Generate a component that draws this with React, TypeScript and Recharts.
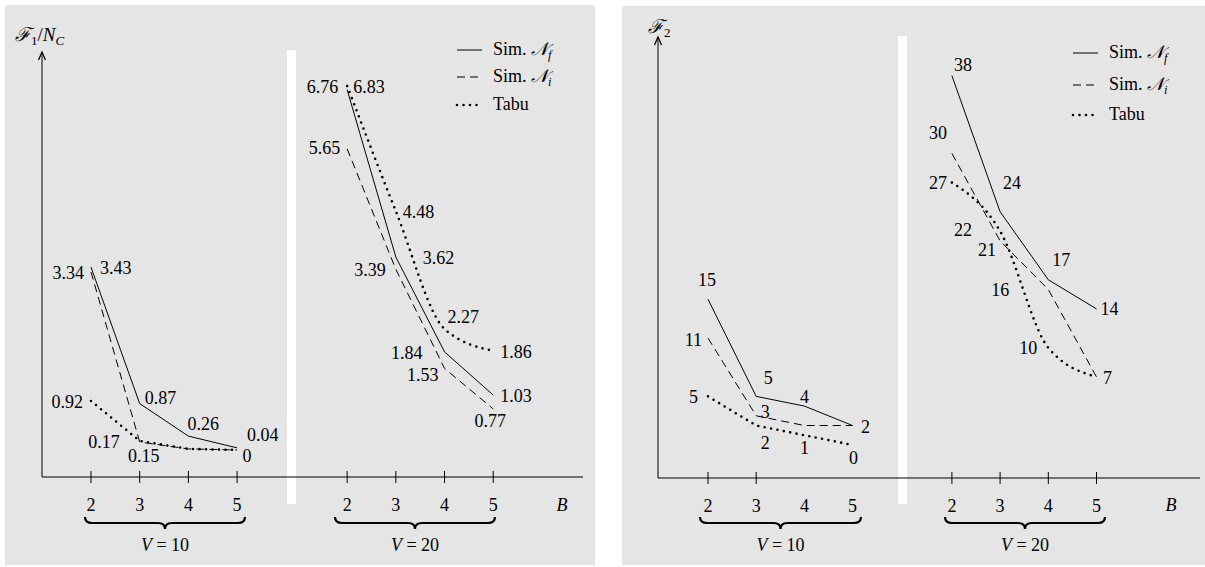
import { LineChart, Line, XAxis, YAxis, LabelList } from "recharts";

const B_VALUES = [2, 3, 4, 5];
const TICK_LABELS = ["2", "3", "4", "5", "2", "3", "4", "5"];

// F1 / Nc panel
const f1SimNf10 = [3.43, 0.87, 0.26, 0.04];
const f1SimNi10 = [3.34, 0.15, 0.02, 0];
const f1Tabu10 = [0.92, 0.17, 0.02, 0];
const f1SimNf20 = [6.76, 3.62, 1.84, 1.03];
const f1SimNi20 = [5.65, 3.39, 1.53, 0.77];
const f1Tabu20 = [6.83, 4.48, 2.27, 1.86];

// F2 panel
const f2SimNf10 = [15, 5, 4, 2];
const f2SimNi10 = [11, 3, 2, 2];
const f2Tabu10 = [5, 2, 1, 0];
const f2SimNf20 = [38, 24, 17, 14];
const f2SimNi20 = [30, 21, 16, 7];
const f2Tabu20 = [27, 22, 10, 7];

// label placement: [dx, dy, anchor] or null (no label)
type Off = [number, number, string] | null;
const offF1Nf10: Off[] = [[9, 1, "start"], [5, -6, "start"], [-1, -12, "start"], [10, -13, "start"]];
const offF1Ni10: Off[] = [[-7, 1, "end"], [4, 14, "middle"], null, [10, 6, "middle"]];
const offF1Tb10: Off[] = [[-8, 1, "end"], [-20, 1, "end"], null, null];
const offF1Nf20: Off[] = [[-9, -3, "end"], [27, 1, "start"], [-22, 1, "end"], [7, 1, "start"]];
const offF1Ni20: Off[] = [[-7, -1, "end"], [-10, 1, "end"], [-6, 7, "end"], [-3, 12, "middle"]];
const offF1Tb20: Off[] = [[6, 1, "start"], [7, 1, "start"], [3, -12, "start"], [7, 1, "start"]];

const offF2Nf10: Off[] = [[-1, -19, "middle"], [12, -18, "middle"], [0, -9, "middle"], [13, 1, "middle"]];
const offF2Ni10: Off[] = [[-6, 2, "end"], [9, -4, "middle"], null, null];
const offF2Tb10: Off[] = [[-10, 1, "end"], [9, 17, "middle"], [0, 13, "middle"], [1, 13, "middle"]];
const offF2Nf20: Off[] = [[11, -11, "middle"], [12, -29, "middle"], [13, -20, "middle"], [13, 0, "middle"]];
const offF2Ni20: Off[] = [[-14, -20, "middle"], [-13, 9, "middle"], [-48, 1, "middle"], [11, 1, "middle"]];
const offF2Tb20: Off[] = [[-14, 0, "middle"], [-37, -1, "middle"], [-20, 0, "middle"], null];

const FONT = "'Liberation Serif'";

const rows = (vals: number[], shift: number) =>
  vals.map((v, i) => ({ x: shift + B_VALUES[i] - 2, v }));

const makeLabel = (offs: Off[], fmt: (v: number) => string, size: number) => (p: any) => {
  const o = offs[p.index];
  if (!o) return null;
  const x = p.x ?? p.viewBox?.x;
  const y = p.y ?? p.viewBox?.y;
  return (
    <text
      x={x + o[0]}
      y={y + o[1]}
      textAnchor={o[2] as any}
      dominantBaseline="central"
      fontFamily={FONT}
      fontSize={size}
      fill="#000"
    >
      {fmt(p.value)}
    </text>
  );
};

const AxisTick = (props: any) => {
  const { x, y, index, marks, size } = props;
  return (
    <g>
      {marks[index] && <line x1={x} x2={x} y1={y - 6} y2={y + 6} stroke="#000" strokeWidth={1} />}
      <text x={x} y={y + 28} textAnchor="middle" dominantBaseline="central" fontFamily={FONT} fontSize={size} fill="#000">
        {TICK_LABELS[index]}
      </text>
    </g>
  );
};

const braceD = (x1: number, x2: number, y: number) => {
  const m = (x1 + x2) / 2;
  return `M ${x1} ${y - 6} Q ${x1} ${y} ${x1 + 7} ${y} L ${m - 7} ${y} Q ${m} ${y} ${m} ${y + 6} Q ${m} ${y} ${m + 7} ${y} L ${x2 - 7} ${y} Q ${x2} ${y} ${x2} ${y - 6}`;
};

const SOLID = {};
const DASHED = { strokeDasharray: "8 5" };
const DOTTED = { strokeDasharray: "0 6.5", strokeLinecap: "round" as const, strokeWidth: 2.6 };

function LegendBox({ x, ys, size }: { x: number; ys: number[]; size: number }) {
  const items = [
    { name: "Sim. ", sub: "f", style: SOLID, cal: true },
    { name: "Sim. ", sub: "i", style: DASHED, cal: true },
    { name: "Tabu", sub: "", style: DOTTED, cal: false },
  ];
  return (
    <g>
      {items.map((it, i) => (
        <g key={i}>
          <line x1={x} x2={x + 25} y1={ys[i]} y2={ys[i]} stroke="#000" strokeWidth={1} {...(it.style as any)} />
          <text x={x + 36} y={ys[i] + 5} fontFamily={FONT} fontSize={size}>
            {it.name}
            {it.cal && <tspan fontStyle="italic">𝒩</tspan>}
            {it.sub && (
              <tspan fontStyle="italic" fontSize={size * 0.7} dy={4}>
                {it.sub}
              </tspan>
            )}
          </text>
        </g>
      ))}
    </g>
  );
}

type PanelProps = {
  left: number;
  top: number;
  width: number;
  height: number;
  margin: { top: number; right: number; bottom: number; left: number };
  xDomain: [number, number];
  yDomain: [number, number];
  shift: number;
  series: { vals: number[]; offs: Off[]; style: any; group: number }[];
  fmt: (v: number) => string;
  marks: boolean[];
  fontSize: number;
  bar: [number, number, number, number];
  braces: [number, number, number][];
  bLabel: [number, number];
  legendX: number;
  legendYs: number[];
  yLabel: React.ReactNode;
};

function Panel(p: PanelProps) {
  const ticks = [...B_VALUES.map((b) => b - 2), ...B_VALUES.map((b) => p.shift + b - 2)];
  const ax = p.margin.left + 1;
  const ay = p.margin.top;
  return (
    <div style={{ position: "absolute", left: p.left, top: p.top, width: p.width, height: p.height, background: "#e5e5e5" }}>
      <div style={{ position: "absolute", left: p.bar[0], top: p.bar[1], width: p.bar[2], height: p.bar[3], background: "#fff" }} />
      <LineChart width={p.width} height={p.height} margin={p.margin}>
        <XAxis
          xAxisId={0}
          type="number"
          dataKey="x"
          domain={p.xDomain}
          allowDataOverflow
          ticks={ticks}
          interval={0}
          height={1}
          tickSize={0}
          tickMargin={0}
          tickLine={false}
          axisLine={{ stroke: "#000", strokeWidth: 1 }}
          tick={<AxisTick marks={p.marks} size={p.fontSize} />}
        />
        <YAxis
          yAxisId={0}
          type="number"
          domain={p.yDomain}
          allowDataOverflow
          width={1}
          tick={false}
          tickLine={false}
          axisLine={{ stroke: "#000", strokeWidth: 1 }}
        />
        {p.series.map((s, i) => (
          <Line
            key={i}
            xAxisId={0}
            yAxisId={0}
            data={rows(s.vals, s.group * p.shift)}
            dataKey="v"
            type={s.style === DOTTED && s.group === 1 ? "monotone" : "linear"}
            stroke="#000"
            strokeWidth={1}
            dot={false}
            isAnimationActive={false}
            {...s.style}
          >
            <LabelList dataKey="v" content={makeLabel(s.offs, p.fmt, p.fontSize)} />
          </Line>
        ))}
      </LineChart>
      <svg
        width={p.width}
        height={p.height}
        style={{ position: "absolute", left: 0, top: 0, pointerEvents: "none" }}
      >
        <polyline
          points={`${ax - 3.5},${ay + 8} ${ax},${ay} ${ax + 3.5},${ay + 8}`}
          fill="none"
          stroke="#000"
          strokeWidth={1.3}
        />
        {p.yLabel}
        <LegendBox x={p.legendX} ys={p.legendYs} size={p.fontSize} />
        <text x={p.bLabel[0]} y={p.bLabel[1]} textAnchor="middle" dominantBaseline="central" fontStyle="italic" fontFamily={FONT} fontSize={p.fontSize}>
          B
        </text>
        {p.braces.map(([x1, x2, y], i) => (
          <g key={i}>
            <path d={braceD(x1, x2, y)} fill="none" stroke="#000" strokeWidth={2.2} />
            <text x={(x1 + x2) / 2} y={y + 22} textAnchor="middle" dominantBaseline="central" fontFamily={FONT} fontSize={p.fontSize}>
              <tspan fontStyle="italic">V</tspan> = {i === 0 ? "10" : "20"}
            </text>
          </g>
        ))}
      </svg>
    </div>
  );
}

export default function App() {
  const fmt1 = (v: number) => (v === 0 ? "0" : v.toFixed(2));
  const fmt2 = (v: number) => String(v);
  return (
    <div style={{ position: "absolute", left: 0, top: 0, width: 1205, height: 567, background: "#fff" }}>
      <Panel
        left={5}
        top={5}
        width={590}
        height={560}
        margin={{ top: 47, right: 12, bottom: 87, left: 36 }}
        xDomain={[-1.006, 10.103]}
        yDomain={[-0.507, 7.467]}
        shift={5.26}
        series={[
          { vals: f1SimNf10, offs: offF1Nf10, style: SOLID, group: 0 },
          { vals: f1SimNi10, offs: offF1Ni10, style: DASHED, group: 0 },
          { vals: f1Tabu10, offs: offF1Tb10, style: DOTTED, group: 0 },
          { vals: f1SimNf20, offs: offF1Nf20, style: SOLID, group: 1 },
          { vals: f1SimNi20, offs: offF1Ni20, style: DASHED, group: 1 },
          { vals: f1Tabu20, offs: offF1Tb20, style: DOTTED, group: 1 },
        ]}
        fmt={fmt1}
        marks={[true, true, true, true, true, true, true, true]}
        fontSize={18}
        bar={[282, 45, 9, 454]}
        braces={[
          [80, 240, 518],
          [330, 490, 518],
        ]}
        bLabel={[557, 500]}
        legendX={452}
        legendYs={[45, 72, 100]}
        yLabel={
          <text x={10} y={36} fontFamily={FONT} fontSize={19}>
            <tspan fontStyle="italic">ℱ</tspan>
            <tspan fontSize={13} dy={4}>1</tspan>
            <tspan dy={-4}>/</tspan>
            <tspan fontStyle="italic">N</tspan>
            <tspan fontStyle="italic" fontSize={13} dy={4}>C</tspan>
          </text>
        }
      />
      <Panel
        left={622}
        top={6}
        width={583}
        height={559}
        margin={{ top: 31, right: 5, bottom: 86, left: 35 }}
        xDomain={[-1.037, 10.207]}
        yDomain={[-3.4, 41.98]}
        shift={5.06}
        series={[
          { vals: f2SimNf10, offs: offF2Nf10, style: SOLID, group: 0 },
          { vals: f2SimNi10, offs: offF2Ni10, style: DASHED, group: 0 },
          { vals: f2Tabu10, offs: offF2Tb10, style: DOTTED, group: 0 },
          { vals: f2SimNf20, offs: offF2Nf20, style: SOLID, group: 1 },
          { vals: f2SimNi20, offs: offF2Ni20, style: DASHED, group: 1 },
          { vals: f2Tabu20, offs: offF2Tb20, style: DOTTED, group: 1 },
        ]}
        fmt={fmt2}
        marks={[true, true, false, false, true, true, true, true]}
        fontSize={18}
        bar={[276, 30, 9, 468]}
        braces={[
          [78, 239, 517],
          [323, 483, 517],
        ]}
        bLabel={[549, 499]}
        legendX={451}
        legendYs={[47, 79, 109]}
        yLabel={
          <text x={26} y={27} fontFamily={FONT} fontSize={19}>
            <tspan fontStyle="italic">ℱ</tspan>
            <tspan fontSize={13} dy={4}>2</tspan>
          </text>
        }
      />
    </div>
  );
}
